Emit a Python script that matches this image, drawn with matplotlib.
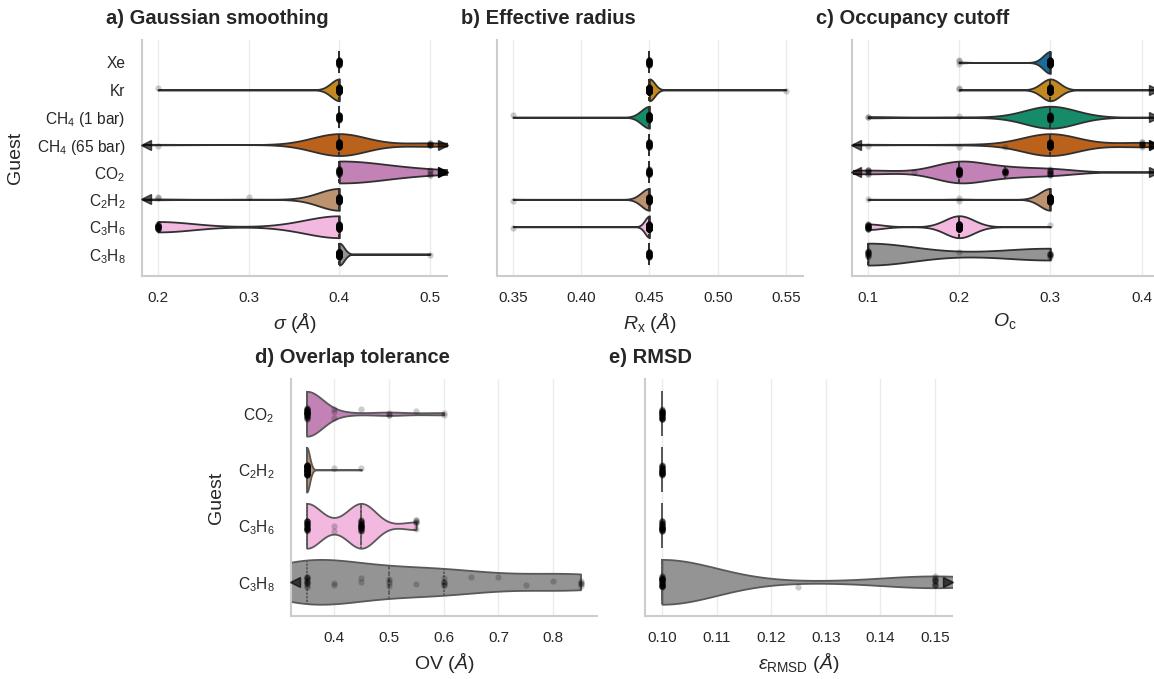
import numpy as np
import pandas as pd
import matplotlib
matplotlib.use("Agg")
import matplotlib.pyplot as plt
import seaborn as sns
from matplotlib.ticker import MultipleLocator
from matplotlib.transforms import blended_transform_factory

# ---------------- data ----------------
GUESTS = ["Xe", "Kr", "CH4 (1 bar)", "CH4 (65 bar)", "CO2", "C2H2", "C3H6", "C3H8"]
GUESTS_BOTTOM = ["CO2", "C2H2", "C3H6", "C3H8"]
GUEST_LABELS = {
    "Xe": "Xe", "Kr": "Kr",
    "CH4 (1 bar)": r"CH$_4$ (1 bar)", "CH4 (65 bar)": r"CH$_4$ (65 bar)",
    "CO2": r"CO$_2$", "C2H2": r"C$_2$H$_2$", "C3H6": r"C$_3$H$_6$", "C3H8": r"C$_3$H$_8$",
}
GUEST_COLORS = {"Xe": "#0173b2", "Kr": "#de8f05", "CH4 (1 bar)": "#029e73",
                "CH4 (65 bar)": "#d55e00", "CO2": "#cc78bc", "C2H2": "#ca9161",
                "C3H6": "#fbafe4", "C3H8": "#949494"}

# (value, number of observations) per guest
SIGMA = {
    "Xe": [(0.4, 40)],
    "Kr": [(0.4, 80), (0.2, 1)],
    "CH4 (1 bar)": [(0.4, 40)],
    "CH4 (65 bar)": [(0.4, 45), (0.5, 7), (0.2, 1), (0.1, 1), (0.6, 1)],
    "CO2": [(0.4, 30), (0.5, 5), (0.7, 2), (0.9, 1)],
    "C2H2": [(0.4, 60), (0.3, 1), (0.2, 2), (0.1, 1)],
    "C3H6": [(0.4, 61), (0.2, 29)],
    "C3H8": [(0.4, 70), (0.5, 1)],
}
RX = {
    "Xe": [(0.45, 40)],
    "Kr": [(0.45, 110), (0.55, 1)],
    "CH4 (1 bar)": [(0.45, 55), (0.35, 1)],
    "CH4 (65 bar)": [(0.45, 40)],
    "CO2": [(0.45, 40)],
    "C2H2": [(0.45, 55), (0.35, 1)],
    "C3H6": [(0.45, 130), (0.35, 1)],
    "C3H8": [(0.45, 40)],
}
OC = {
    "Xe": [(0.3, 80), (0.2, 3)],
    "Kr": [(0.3, 95), (0.2, 2), (0.5, 1)],
    "CH4 (1 bar)": [(0.3, 35), (0.2, 1), (0.1, 2), (0.5, 1)],
    "CH4 (65 bar)": [(0.3, 45), (0.4, 9), (0.25, 1), (0.2, 1), (0.1, 1), (0.05, 1), (0.5, 2)],
    "CO2": [(0.2, 40), (0.25, 15), (0.3, 12), (0.1, 7), (0.15, 1), (0.05, 1), (0.5, 1)],
    "C2H2": [(0.3, 75), (0.2, 2), (0.1, 1)],
    "C3H6": [(0.2, 100), (0.1, 25), (0.3, 1)],
    "C3H8": [(0.1, 15), (0.3, 8), (0.2, 1)],
}
OV = {
    "CO2": [(0.35, 45), (0.4, 3), (0.45, 1), (0.5, 3), (0.55, 1), (0.6, 2)],
    "C2H2": [(0.35, 75), (0.4, 1), (0.45, 1)],
    "C3H6": [(0.35, 35), (0.4, 2), (0.45, 35), (0.55, 6)],
    "C3H8": [(0.3, 1), (0.35, 14), (0.4, 2), (0.45, 2), (0.5, 4), (0.55, 1), (0.6, 6),
             (0.65, 1), (0.7, 1), (0.75, 1), (0.8, 1), (0.85, 5)],
}
RMSD = {
    "CO2": [(0.1, 40)],
    "C2H2": [(0.1, 40)],
    "C3H6": [(0.1, 40)],
    "C3H8": [(0.1, 42), (0.15, 11), (0.125, 1), (0.18, 1)],
}

PANELS = [
    dict(data=SIGMA, guests=GUESTS, rect=(142, 40, 305, 236), xlim=(0.1824, 0.5187),
         step=0.1, xlabel=r"$\sigma$ ($\AA$)", title="a) Gaussian smoothing", ylab=True),
    dict(data=RX, guests=GUESTS, rect=(497, 40, 306, 236), xlim=(0.3383, 0.5625),
         step=0.05, xlabel=r"$R_\mathrm{x}$ ($\AA$)", title="b) Effective radius", ylab=False),
    dict(data=OC, guests=GUESTS, rect=(852, 40, 306, 236), xlim=(0.0825, 0.418),
         step=0.1, xlabel=r"$O_\mathrm{c}$", title="c) Occupancy cutoff", ylab=False),
    dict(data=OV, guests=GUESTS_BOTTOM, rect=(291, 379, 306, 237), xlim=(0.3215, 0.880),
         step=0.1, xlabel=r"OV ($\AA$)", title="d) Overlap tolerance", ylab=True),
    dict(data=RMSD, guests=GUESTS_BOTTOM, rect=(645, 379, 307, 237), xlim=(0.0969, 0.1531),
         step=0.01, xlabel=r"$\varepsilon_\mathrm{RMSD}$ ($\AA$)", title="e) RMSD", ylab=False),
]

# ---------------- style ----------------
sns.set_theme(style="whitegrid")
plt.rcParams["font.family"] = ["Liberation Sans", "DejaVu Sans"]
plt.rcParams["mathtext.fontset"] = "custom"
plt.rcParams["mathtext.rm"] = "Liberation Sans"
plt.rcParams["mathtext.it"] = "Liberation Sans:italic"
plt.rcParams["mathtext.bf"] = "Liberation Sans:bold"
plt.rcParams["axes.edgecolor"] = "#cccccc"
plt.rcParams["grid.color"] = "#ebebeb"

W, H = 1154, 679
fig = plt.figure(figsize=(W / 100, H / 100), dpi=100)
np.random.seed(3)

for p in PANELS:
    left, top, w, h = p["rect"]
    ax = fig.add_axes([left / W, 1 - (top + h) / H, w / W, h / H])
    guests = p["guests"]
    rows = []
    for g in guests:
        for v, n in p["data"][g]:
            rows += [(g, v)] * n
    df = pd.DataFrame(rows, columns=["guest", "value"])

    sns.violinplot(data=df, x="value", y="guest", hue="guest", order=guests,
                   hue_order=guests, palette=[GUEST_COLORS[g] for g in guests],
                   cut=0, inner="quart", density_norm="width", width=0.8,
                   bw_adjust=1.0, linewidth=1.3, legend=False, ax=ax)
    sns.stripplot(data=df, x="value", y="guest", order=guests, color="black",
                  alpha=0.2, size=4.5, jitter=0.1, ax=ax, zorder=5)

    xmin, xmax = p["xlim"]
    trans = blended_transform_factory(ax.transAxes, ax.transData)
    for i, g in enumerate(guests):
        vals = np.repeat([v for v, n in p["data"][g]], [n for v, n in p["data"][g]])
        nlo = int((vals < xmin).sum())
        nhi = int((vals > xmax).sum())
        if nlo:
            ax.plot([0.013], [i], marker="<", ms=6.5, color="black",
                    alpha=1 - 0.35 ** nlo, transform=trans, clip_on=False, zorder=6, lw=0)
        if nhi:
            ax.plot([0.987], [i], marker=">", ms=6.5, color="black",
                    alpha=1 - 0.35 ** nhi, transform=trans, clip_on=False, zorder=6, lw=0)

    ax.set_xlim(xmin, xmax)
    if len(guests) == 8:
        ax.set_ylim(7.8, -0.82)
    else:
        ax.set_ylim(3.61, -0.62)
    ax.xaxis.set_major_locator(MultipleLocator(p["step"]))
    ax.grid(axis="x", color="#ebebeb", lw=1.0)
    ax.grid(axis="y", visible=False)
    for s in ["top", "right"]:
        ax.spines[s].set_visible(False)
    for s in ["left", "bottom"]:
        ax.spines[s].set_color("#cccccc")
        ax.spines[s].set_linewidth(1.5)
    ax.tick_params(axis="x", labelsize=11, pad=11, length=0, colors="#262626")
    ax.tick_params(axis="y", labelsize=11.2, pad=12, length=0, colors="#262626")
    ax.set_xlabel(p["xlabel"], fontsize=14, labelpad=4, color="#262626")
    if p["ylab"]:
        ax.set_yticks(range(len(guests)))
        ax.set_yticklabels([GUEST_LABELS[g] for g in guests])
        ax.set_ylabel("Guest", fontsize=14, labelpad=9, color="#262626")
    else:
        ax.set_yticks(range(len(guests)))
        ax.set_yticklabels([])
        ax.set_ylabel("")
    ax.text(-0.118, 1.092, p["title"], transform=ax.transAxes, fontsize=14.5,
            fontweight="bold", ha="left", va="center", color="#262626")

fig.savefig("out.png", dpi=100)
